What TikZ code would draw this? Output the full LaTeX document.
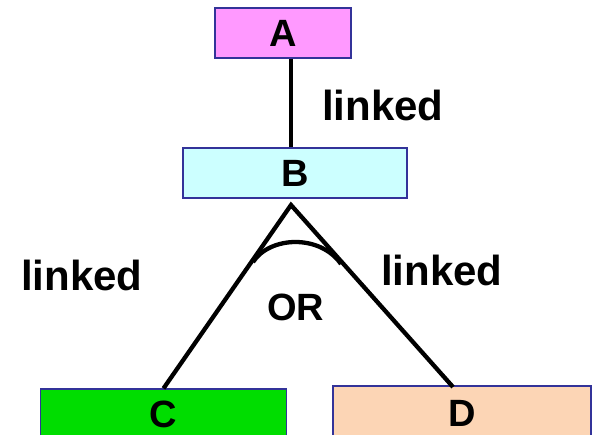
\documentclass[tikz,border=0pt]{standalone}
\usepackage{fontspec}
\setmainfont{Liberation Sans}
\usetikzlibrary{positioning}

\definecolor{boxline}{HTML}{333399}
\definecolor{pinkA}{HTML}{FF99FF}
\definecolor{cyanB}{HTML}{CCFFFF}
\definecolor{greenC}{HTML}{00DD00}
\definecolor{peachD}{HTML}{FCD5B5}

\begin{document}
\begin{tikzpicture}[
    x=1pt, y=-1pt,
    part/.style={draw=boxline, line width=1.2pt, fill=#1, inner sep=0pt, font=\fontsize{38}{38}\selectfont\bfseries},
    link/.style={line width=4.3pt, black},
    tag/.style={anchor=base west, inner sep=0pt, font=\fontsize{42}{42}\selectfont\bfseries},
]
\useasboundingbox (0,0) rectangle (594,434);

% Parts
\node[part=pinkA, minimum width=136pt, minimum height=50pt] (A) at (283,33) {A};
\node[part=cyanB, minimum width=224pt, minimum height=50pt] (B) at (295,173) {B};
\node[part=greenC, minimum width=246pt, minimum height=51pt] (C) at (163.5,414.5) {C};
\node[part=peachD, minimum width=258pt, minimum height=54pt] (D) at (462,413) {D};

% Junction points
\coordinate (apex) at (291,205);
\coordinate (dfoot) at (453,387);

% Links
\draw[link] (A.south -| apex) -- (B.north -| apex);
\draw[link] (C.north) -- (apex) -- (dfoot);
\draw[link] (253,262) .. controls (270,236) and (320,234) .. (341,264);

% Labels
\node[tag] (l1) at (322,120) {linked};
\node[tag] (l2) at (21,290) {linked};
\node[tag] (l3) at (381,285) {linked};
\node[tag, font=\fontsize{38}{38}\selectfont\bfseries] (or) at (267,320) {OR};

\end{tikzpicture}
\end{document}
